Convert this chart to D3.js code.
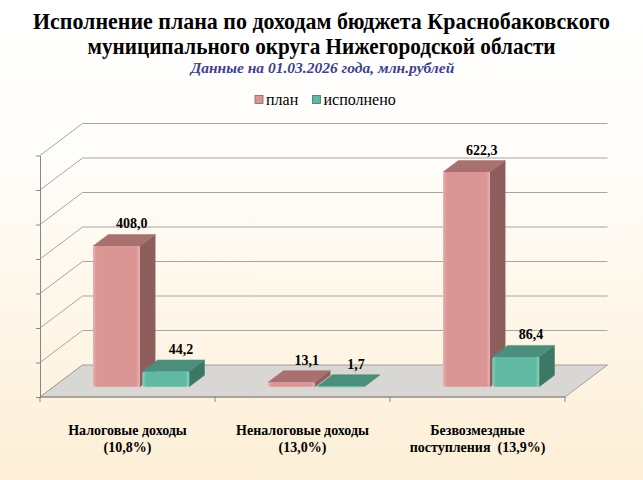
<!DOCTYPE html>
<html><head><meta charset="utf-8">
<script src="https://cdn.jsdelivr.net/npm/d3@7"></script>
<style>html,body{margin:0;padding:0;background:#fff}svg{display:block}</style>
</head><body>
<script>
// ---- data ----
const categories = ["Налоговые доходы", "Неналоговые доходы", "Безвозмездные поступления"];
const categoryLabelLines = [["Налоговые доходы", "(10,8%)"], ["Неналоговые доходы", "(13,0%)"], ["Безвозмездные", "поступления  (13,9%)"]];
const seriesNames = ["план", "исполнено"];
const planValues = [408.0, 13.1, 622.3];
const doneValues = [44.2, 1.7, 86.4];
const yTickValues = [0, 100, 200, 300, 400, 500, 600, 700];
const titleLines = ["Исполнение плана по доходам бюджета Краснобаковского", "муниципального округа Нижегородской области"];
const subtitle = "Данные на 01.03.2026 года, млн.рублей";

// ---- layout ----
const W = 643, H = 480;
const X0 = 40, X1 = 565, YB = 397, YT = 155.5;
const DX = 42.5, DY = 32;      // depth offset of back wall
const D0 = 0.32, D1 = 0.68;    // bar depth range
const serif = "Liberation Serif, Times New Roman, DejaVu Serif, serif";
const titleWidths = [577, 468];

const colors = {
  "план": {front: "#d99694", light: "#eab0ae", top: "#a8716f", side: "#8e5e5c"},
  "исполнено": {front: "#62b9a3", light: "#86d2bf", top: "#4a8e7b", side: "#3d7766"}
};

const svg = d3.select("body").append("svg").attr("width", W).attr("height", H);
const defs = svg.append("defs");
const bg = defs.append("linearGradient").attr("id", "bg").attr("x1", 0).attr("y1", 0).attr("x2", 0).attr("y2", 1);
bg.append("stop").attr("offset", "0").attr("stop-color", "#ffffff");
bg.append("stop").attr("offset", "0.35").attr("stop-color", "#fffdf9");
bg.append("stop").attr("offset", "1").attr("stop-color", "#fdefd6");
svg.append("rect").attr("width", W).attr("height", H).attr("fill", "url(#bg)");

seriesNames.forEach((s, i) => {
  const g = defs.append("linearGradient").attr("id", "fg" + i).attr("x1", 0).attr("y1", 0).attr("x2", 1).attr("y2", 0);
  g.append("stop").attr("offset", "0").attr("stop-color", colors[s].light);
  g.append("stop").attr("offset", "0.08").attr("stop-color", colors[s].front);
  g.append("stop").attr("offset", "0.92").attr("stop-color", colors[s].front);
  g.append("stop").attr("offset", "1").attr("stop-color", colors[s].light);
});

const y = d3.scaleLinear().domain([0, 700]).range([YB, YT]);
const x = d3.scaleBand().domain(categories).range([X0, X1]);
const xs = d3.scaleBand().domain(seriesNames).range([0, x.bandwidth()]).paddingInner(0.05).paddingOuter(0.8);
const proj = (px, py, d) => [px + d * DX, py - d * DY];
const pts = a => a.map(p => p.join(",")).join(" ");

// ---- walls & grid ----
const grid = svg.append("g").attr("stroke", "#a6a6a6").attr("stroke-width", 1).attr("fill", "none");
svg.append("polygon")
  .attr("points", pts([proj(X0, y(0), 0), proj(X1, y(0), 0), proj(X1, y(0), 1), proj(X0, y(0), 1)]))
  .attr("fill", "#d8d7d3").attr("stroke", "#a39f9a").attr("stroke-width", 1);
yTickValues.forEach(t => {
  const a = proj(X0, y(t), 0), b = proj(X0, y(t), 1), c = proj(X1, y(t), 1);
  grid.append("line").attr("x1", a[0]).attr("y1", a[1]).attr("x2", b[0]).attr("y2", b[1]);
  if (t > 0) grid.append("line").attr("x1", b[0]).attr("y1", b[1]).attr("x2", c[0]).attr("y2", c[1]);
});

// ---- axes ----
const yAxis = svg.append("g").attr("transform", `translate(${X0},0)`)
  .call(d3.axisLeft(y).tickValues(yTickValues).tickSize(4).tickSizeOuter(0).tickFormat(""));
yAxis.selectAll("path,line").attr("stroke", "#868686");
const xAxis = svg.append("g").attr("transform", `translate(0,${YB})`);
xAxis.append("line").attr("x1", X0).attr("x2", X1).attr("stroke", "#868686");
categories.concat([null]).forEach(c => {
  const px = c === null ? X1 : x(c);
  xAxis.append("line").attr("x1", px).attr("x2", px).attr("y1", 0).attr("y2", 5).attr("stroke", "#868686");
});

// ---- bars ----
const fmt = v => d3.format(".1f")(v).replace(".", ",");
const barsG = svg.append("g");
const labelsG = svg.append("g");
categories.forEach((c, i) => {
  [planValues[i], doneValues[i]].forEach((v, j) => {
    const s = seriesNames[j], col = colors[s];
    const l = x(c) + xs(s), r = l + xs.bandwidth();
    const yt = y(v), yb = y(0);
    const g = barsG.append("g");
    g.append("polygon").attr("points", pts([proj(r, yt, D0), proj(r, yt, D1), proj(r, yb, D1), proj(r, yb, D0)]))
      .attr("fill", col.side).attr("stroke", col.side).attr("stroke-width", 0.5).attr("stroke-linejoin", "round");
    g.append("polygon").attr("points", pts([proj(l, yt, D0), proj(r, yt, D0), proj(r, yt, D1), proj(l, yt, D1)]))
      .attr("fill", col.top).attr("stroke", col.top).attr("stroke-width", 0.5).attr("stroke-linejoin", "round");
    const f0 = proj(l, yt, D0), f1 = proj(r, yb, D0);
    g.append("rect").attr("x", f0[0]).attr("y", f0[1]).attr("width", f1[0] - f0[0]).attr("height", Math.max(1, f1[1] - f0[1]))
      .attr("rx", 2.5).attr("fill", `url(#fg${j})`);
    const lp = proj((l + r) / 2, yt, D1);
    labelsG.append("text").attr("x", lp[0]).attr("y", lp[1] - 6).attr("text-anchor", "middle")
      .style("font-family", serif).attr("font-weight", "bold").attr("font-size", 14).attr("fill", "#000")
      .text(fmt(v));
  });
});

// ---- category labels ----
categories.forEach((c, i) => {
  const cx = x(c) + x.bandwidth() / 2;
  categoryLabelLines[i].forEach((line, k) => {
    svg.append("text").attr("x", cx).attr("y", 435 + k * 17).attr("text-anchor", "middle")
      .style("font-family", serif).attr("font-weight", "bold").attr("font-size", 14).attr("fill", "#000")
      .style("white-space", "pre")
      .text(line);
  });
});

// ---- title ----
titleLines.forEach((t, k) => {
  svg.append("text").attr("x", W / 2).attr("y", 29 + k * 25).attr("text-anchor", "middle")
    .style("font-family", serif).attr("font-weight", "bold").attr("font-size", 23).attr("fill", "#000")
    .attr("textLength", titleWidths[k]).attr("lengthAdjust", "spacingAndGlyphs")
    .text(t);
});
svg.append("text").attr("x", W / 2 + 1).attr("y", 73).attr("text-anchor", "middle")
  .style("font-family", serif).attr("font-weight", "bold").attr("font-style", "italic").attr("font-size", 15.5)
  .attr("fill", "#3f3f8a").text(subtitle);

// ---- legend ----
const legX = [255, 312.5];
seriesNames.forEach((s, j) => {
  svg.append("rect").attr("x", legX[j]).attr("y", 95.5).attr("width", 8).attr("height", 8)
    .attr("fill", colors[s].front).attr("stroke", colors[s].side).attr("stroke-width", 0.8);
  svg.append("text").attr("x", legX[j] + 11).attr("y", 105).style("font-family", serif)
    .attr("font-size", 16).attr("fill", "#000").text(s);
});
</script>
</body></html>
